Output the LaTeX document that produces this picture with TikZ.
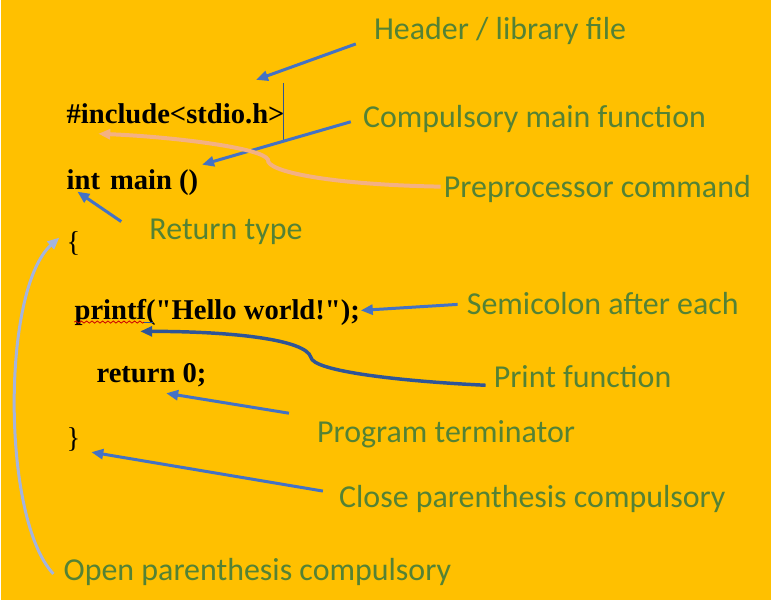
\documentclass[tikz,border=0pt]{standalone}
\usepackage{fontspec}
\setmainfont{Liberation Serif}
\newfontfamily\tagfont{Carlito}
\usetikzlibrary{arrows.meta,decorations.pathmorphing}
\definecolor{gold}{HTML}{FFC000}
\definecolor{leaf}{HTML}{548235}
\definecolor{arrowblue}{HTML}{4472C4}
\definecolor{navy}{HTML}{2F5597}
\definecolor{salmon}{HTML}{F4B183}
\definecolor{haze}{HTML}{A4B4DE}
\begin{document}
\begin{tikzpicture}[x=0.75pt,y=-0.75pt,
  code/.style={anchor=base west,inner sep=0pt,font=\fontsize{21.5}{24}\selectfont\bfseries},
  tag/.style={anchor=base west,inner sep=0pt,text=leaf,font=\tagfont\fontsize{24}{28}\selectfont},
  arr/.style={line width=2.25pt,arrowblue,-{Triangle[length=9pt,width=7.5pt]}}]
\fill[gold] (0,0) rectangle (771,601);

% the program
\node[code] (inc) at (65,124) {\#include<stdio.h>};
\node[code] (mn)  at (65,190) {int\hspace{0.35em}main ()};
\node[code] (ob)  at (65,252) {\mdseries\{};
\node[code] (prf) at (73,320) {printf(\textquotedbl Hello world!\textquotedbl);};
\node[code] (rt)  at (95,383) {return 0;};
\node[code] (cb)  at (65,448) {\mdseries\}};
\draw[navy,line width=0.75pt] (283,83) -- (283,142);
\draw[red!80!black,line width=0.6pt,decorate,decoration={snake,amplitude=0.8pt,segment length=4pt}]
  ([yshift=-2]prf.base west) -- ++(70,0);
\draw[navy,line width=0.8pt] ([shift={(70,3)}]prf.base west) -- ++(9,0);

% the notes
\node[tag] (hdr)  at (373,40)  {Header / library file};
\node[tag] (cmf)  at (362,128) {Compulsory main function};
\node[tag] (pre)  at (443,198) {Preprocessor command};
\node[tag] (ret)  at (148,240) {Return type};
\node[tag] (semi) at (466,315) {Semicolon after each};
\node[tag] (prt)  at (493,388) {Print function};
\node[tag] (term) at (316,443) {Program terminator};
\node[tag] (cls)  at (338,508) {Close parenthesis compulsory};
\node[tag] (opn)  at (62,582)  {Open parenthesis compulsory};

\coordinate (hdrtip)  at (255,80);
\coordinate (cmftip)  at (201,165);
\coordinate (pretip)  at (97,134);
\coordinate (rettip)  at (76,192);
\coordinate (semitip) at (360,311);
\coordinate (prttip)  at (139,332);
\coordinate (termtip) at (165,394);
\coordinate (clstip)  at (90,453);
\coordinate (opntip)  at (58,238);

\draw[arr] ([shift={(-18,4)}]hdr.base west) -- (hdrtip);
\draw[arr] ([shift={(-12,-6)}]cmf.base west) -- (cmftip);
\draw[arr] ([shift={(-28,-18)}]ret.base west) -- (rettip);
\draw[arr] ([shift={(-9,-10)}]semi.base west) -- (semitip);
\draw[arr] ([shift={(-28,-29)}]term.base west) -- (termtip);
\draw[arr] ([shift={(-16,-16)}]cls.base west) -- (clstip);
\draw[arr,salmon,line width=3pt] ([shift={(-3,-11)}]pre.base west)
  .. controls (330,185) and (265,172) .. (267,160)
  .. controls (262,148) and (170,137) .. (pretip);
\draw[arr,navy,line width=2.6pt] ([shift={(-8,-2)}]prt.base west)
  .. controls (400,382) and (312,372) .. (310,358)
  .. controls (305,340) and (230,332) .. (prttip);
\draw[arr,haze] ([shift={(-10,-7)}]opn.base west)
  .. controls (0,520) and (0,290) .. (opntip);
\end{tikzpicture}
\end{document}
